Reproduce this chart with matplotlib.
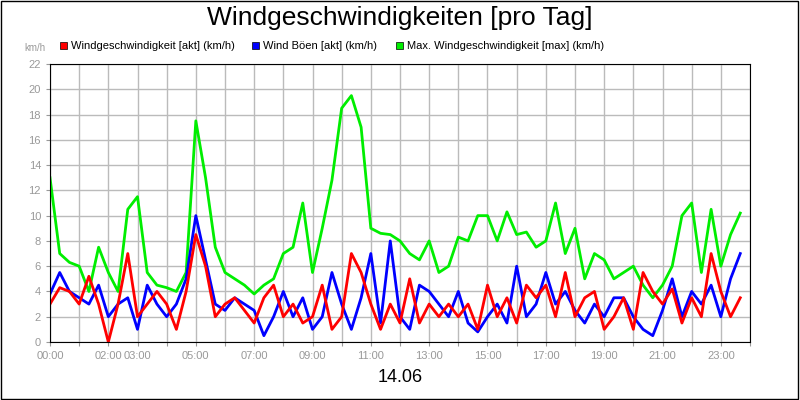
import numpy as np
import matplotlib.pyplot as plt
from matplotlib.patches import Rectangle

plt.rcParams['font.family'] = 'Liberation Sans'

# values, 20-minute steps
max_speed = [13, 7, 6.3, 6, 4, 7.5, 5.5, 4, 10.5, 11.5, 5.5, 4.5,
             4.3, 4, 5.5, 17.5, 13, 7.5, 5.5, 5, 4.5, 3.8, 4.5, 5,
             7, 7.5, 11, 5.5, 9, 12.8, 18.5, 19.5, 17, 9, 8.6, 8.5,
             8, 7, 6.5, 8, 5.5, 6, 8.3, 8, 10, 10, 8, 10.3,
             8.5, 8.7, 7.5, 8, 11, 7, 9, 5, 7, 6.5, 5, 5.5,
             6, 4.5, 3.5, 4.5, 6, 10, 11, 5.5, 10.5, 6, 8.5, 10.2]
gusts = [3.8, 5.5, 4, 3.5, 3, 4.5, 2, 3, 3.5, 1, 4.5, 3,
         2, 3, 5, 10, 6.5, 3, 2.5, 3.5, 3, 2.5, 0.5, 2,
         4, 2, 3.5, 1, 2, 5.5, 3, 1, 3.5, 7, 1.5, 8,
         2, 1, 4.5, 4, 3, 2, 4, 1.5, 0.8, 2, 3, 1.5,
         6, 2, 3, 5.5, 3, 4, 2.5, 1.5, 3, 2, 3.5, 3.5,
         2, 1, 0.5, 2.5, 5, 2, 4, 3, 4.5, 2, 5, 7]
speed = [3, 4.3, 4, 3, 5.2, 3, 0, 3, 7, 2, 3, 4,
         3, 1, 4, 8.5, 6, 2, 3, 3.5, 2.5, 1.5, 3.5, 4.5,
         2, 3, 1.5, 2, 4.5, 1, 2, 7, 5.5, 3, 1, 3,
         1.5, 5, 1.5, 3, 2, 3, 2, 3, 1, 4.5, 2, 3.5,
         1.5, 4.5, 3.5, 4.5, 2, 5.5, 2, 3.5, 4, 1, 2, 3.5,
         1, 5.5, 4, 3, 4.2, 1.5, 3.5, 2, 7, 4, 2, 3.5]
tick_hours = [0, 2, 3, 5, 7, 9, 11, 13, 15, 17, 19, 21, 23]

t = np.arange(len(speed)) * 24 / len(speed)

fig = plt.figure(figsize=(8, 4), dpi=100)
ax = fig.add_axes([0.0625, 0.145, 0.875, 0.695])
ax.plot(t, max_speed, color='#00ee00', lw=2)
ax.plot(t, gusts, color='#0000ff', lw=2)
ax.plot(t, speed, color='#ff0000', lw=2)

ax.set_xlim(0, 24)
ax.set_ylim(0, 22)
ax.set_yticks(range(0, 23, 2))
ax.set_xticks(range(0, 25))
ax.set_xticklabels(['%02d:00' % h if h in tick_hours else '' for h in range(25)])
ax.tick_params(colors='#999999', labelsize=8, length=3)
ax.grid(color='#bbbbbb', lw=1)
ax.set_axisbelow(True)
for s in ax.spines.values():
    s.set_color('black')

fig.text(0.5, 0.955, 'Windgeschwindigkeiten [pro Tag]', ha='center', va='center', fontsize=19)
fig.text(0.5, 0.055, '14.06', ha='center', va='center', fontsize=13)
fig.text(0.03, 0.88, 'km/h', ha='left', va='center', fontsize=7, color='#999999')

legend = [('Windgeschwindigkeit [akt] (km/h)', '#ff0000', 0.075),
          ('Wind Böen [akt] (km/h)', '#0000ff', 0.315),
          ('Max. Windgeschwindigkeit [max] (km/h)', '#00ee00', 0.495)]
for label, col, x in legend:
    fig.patches.append(Rectangle((x, 0.877), 0.009, 0.018, transform=fig.transFigure,
                                 facecolor=col, edgecolor='black', lw=0.5))
    fig.text(x + 0.014, 0.886, label, ha='left', va='center', fontsize=8)

fig.patches.append(Rectangle((0.001, 0.002), 0.997, 0.996, transform=fig.transFigure,
                             fill=False, edgecolor='black', lw=1))
fig.savefig('out.png')
